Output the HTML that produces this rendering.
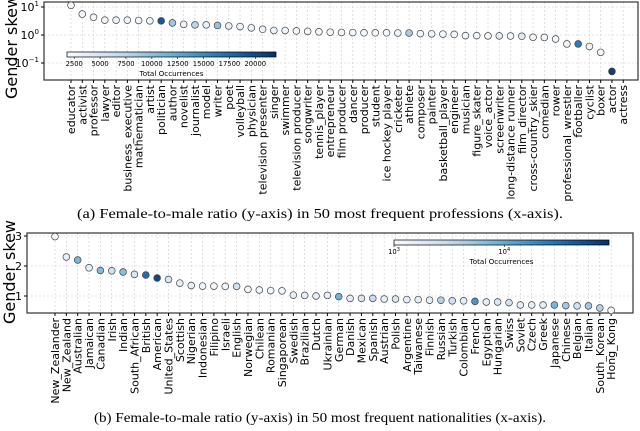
<!DOCTYPE html>
<html><head><meta charset="utf-8"><style>
body{margin:0;background:#fff}
svg{display:block;font-family:"DejaVu Sans","Liberation Sans",sans-serif}
.cap{font-family:"Liberation Serif",serif;font-size:14px}
</style></head><body>
<svg id="s" width="640" height="431" xmlns="http://www.w3.org/2000/svg">
<text class="cap" x="320" y="218" text-anchor="middle" textLength="486" lengthAdjust="spacingAndGlyphs">(a) Female-to-male ratio (y-axis) in 50 most frequent professions (x-axis).</text>
<text class="cap" x="320" y="422" text-anchor="middle" textLength="452" lengthAdjust="spacingAndGlyphs">(b) Female-to-male ratio (y-axis) in 50 most frequent nationalities (x-axis).</text>
</svg>
<script>
const profCats=["educator","activist","professor","lawyer","editor","business_executive","mathematician","artist","politician","author","novelist","journalist","model","writer","poet","volleyball","physician","television presenter","singer","swimmer","television producer","songwriter","tennis_player","entrepreneur","film producer","dancer","producer","student","ice hockey player","cricketer","athlete","composer","painter","basketball_player","engineer","musician","figure_skater","voice_actor","screenwriter","long-distance runner","film_director","cross-country_skier","comedian","rower","professional_wrestler","footballer","cyclist","boxer","actor","actress"];
const profSkew=[11.5,5.6,4.3,3.4,3.4,3.4,3.3,3.2,3.2,2.7,2.4,2.3,2.3,2.2,2.1,2.0,1.8,1.6,1.45,1.45,1.4,1.35,1.3,1.26,1.23,1.22,1.2,1.2,1.2,1.18,1.18,1.12,1.1,1.08,1.05,0.95,0.95,0.93,0.93,0.92,0.9,0.83,0.82,0.72,0.48,0.48,0.39,0.24,0.05,null];
const profCount=[2600,2500,2600,2700,2800,2600,2600,2900,19000,9000,3000,7500,3200,9500,3200,3000,2800,3000,2800,2700,2600,2600,2600,2600,2500,2500,2500,2500,2500,2600,8500,2600,3000,2600,2600,2600,2700,2600,4000,2600,4500,2600,2600,2600,2600,16000,2600,2600,21000,2500];
const profTicks=[2500,5000,7500,10000,12500,15000,17500,20000];
const natCats=["New_Zealander","New_Zealand","Australian","Jamaican","Canadian","Irish","Indian","South_African","British","American","United_States","Scottish","Nigerian","Indonesian","Filipino","Israeli","English","Norwegian","Chilean","Romanian","Singaporean","Swedish","Brazilian","Dutch","Ukrainian","German","Danish","Mexican","Spanish","Austrian","Polish","Argentine","Taiwanese","Finnish","Russian","Turkish","Colombian","French","Egyptian","Hungarian","Swiss","Soviet","Czech","Greek","Japanese","Chinese","Belgian","Italian","South_Korean","Hong_Kong"];
const natSkew=[2.98,2.3,2.2,1.94,1.85,1.84,1.8,1.72,1.7,1.6,1.55,1.43,1.35,1.33,1.33,1.32,1.32,1.22,1.2,1.18,1.17,1.03,1.02,1.0,1.02,0.98,0.92,0.92,0.92,0.9,0.9,0.88,0.88,0.86,0.86,0.84,0.84,0.82,0.8,0.8,0.78,0.7,0.7,0.7,0.7,0.68,0.67,0.67,0.6,0.52];
const natCount=[1100,1500,8000,1500,7000,2500,6500,2000,30000,60000,2000,1500,1500,1200,1200,1200,2500,1200,1200,1200,1200,1500,1500,1500,1500,9000,1500,2000,3000,1500,2000,1500,1500,1500,4000,2500,1500,15000,1500,2000,2500,1500,1500,1500,8000,5000,2500,5000,4000,1200];
const natTicks=[1000,10000];

const NS="http://www.w3.org/2000/svg",svg=document.getElementById('s');
function mk(t,a,p){const e=document.createElementNS(NS,t);for(const k in a)e.setAttribute(k,a[k]);(p||svg).appendChild(e);return e;}
const stops=[[0,[247,251,255]],[0.25,[198,219,239]],[0.5,[107,174,214]],[0.75,[33,113,181]],[1,[8,48,107]]];
function blues(t){t=Math.max(0,Math.min(1,t));for(let i=1;i<stops.length;i++){if(t<=stops[i][0]){const a=stops[i-1],b=stops[i],f=(t-a[0])/(b[0]-a[0]);return 'rgb('+a[1].map((v,j)=>Math.round(v+(b[1][j]-v)*f)).join(',')+')';}}return 'rgb(8,48,107)';}
function frame(x0,y0,x1,y1,name){mk('rect',{x:x0,y:y0,width:x1-x0,height:y1-y0,fill:'none',stroke:'#333','stroke-width':1.2,});}
function grid(x0,y0,x1,y1,xs,ys){xs.forEach(x=>mk('line',{x1:x,x2:x,y1:y0,y2:y1,stroke:'#ccc','stroke-width':0.6,'stroke-dasharray':'2,2'}));ys.forEach(y=>mk('line',{x1:x0,x2:x1,y1:y,y2:y,stroke:'#ccc','stroke-width':0.6,'stroke-dasharray':'2,2'}));}
function colorbar(x0,x1,y,ticks,sc,lab,name){const g=mk('g',{});
 const d=mk('defs',{},g),lg=mk('linearGradient',{id:name+'g'},d);for(let i=0;i<=10;i++)mk('stop',{offset:i/10,'stop-color':blues(i/10)},lg);
 mk('rect',{x:x0,y:y,width:x1-x0,height:5,fill:'url(#'+name+'g)',stroke:'#000','stroke-width':0.7},g);
 ticks.forEach(t=>{const x=sc(t);mk('line',{x1:x,x2:x,y1:y+5,y2:y+7,stroke:'#000','stroke-width':0.6},g);const tx=mk('text',{x:x,y:y+14,'font-size':6.8,'text-anchor':'middle'},g);
  if(name==='colorbar-b'){tx.textContent='10';const s=mk('tspan',{'font-size':5,dy:-3},tx);s.textContent=String(Math.round(Math.log10(t)));}else tx.textContent=t;});
 const l=mk('text',{x:(x0+x1)/2,y:y+24,'font-size':7.2,'text-anchor':'middle'},g);l.textContent=lab;}

// ---- Top chart
(function(){
 const X0=44,X1=638,Y0=2,Y1=80;
 const xs=i=>71+i*11.27; const ys=v=>35-Math.log10(v)*28;
 grid(X0,Y0,X1,Y1,profCats.map((c,i)=>xs(i)),[ys(10),ys(1),ys(0.1)]);
 frame(X0,Y0,X1,Y1,'plot-area-a');
 [[10,'1'],[1,'0'],[0.1,'−1']].forEach(([v,e])=>{const y=ys(v);mk('line',{x1:X0-3,x2:X0,y1:y,y2:y,stroke:'#000'});const t=mk('text',{x:X0-5,y:y+4,'font-size':11,'text-anchor':'end',});t.textContent='10';const s=mk('tspan',{'font-size':7,dy:-5},t);s.textContent=e;});
 const yl=mk('text',{x:0,y:0,'font-size':16,'text-anchor':'middle',transform:'translate(17,47) rotate(-90)',});yl.textContent='Gender skew';
 const cmin=1800,cmax=22000;const csc=v=>67+(v-cmin)/(cmax-cmin)*209;
 colorbar(67,276,52,profTicks,csc,'Total Occurrences','colorbar-a');
 profCats.forEach((c,i)=>{const x=xs(i);mk('line',{x1:x,x2:x,y1:Y1,y2:Y1+3,stroke:'#000'});
  const t=mk('text',{x:0,y:0,'font-size':11,'text-anchor':'end',transform:`translate(${x+4},${Y1+5}) rotate(-90)`});
  
  t.textContent=c;
  if(profSkew[i]!=null){const p=mk('circle',{cx:x,cy:ys(profSkew[i]),r:3.4,fill:blues((profCount[i]-cmin)/(cmax-cmin)),stroke:'#444','stroke-width':0.7});
  
  }});
})();
// ---- Bottom chart
(function(){
 const X0=27,X1=633,Y0=233,Y1=313;
 const xs=i=>55+i*11.35; const ys=v=>296-(v-1)*30;
 grid(X0,Y0,X1,Y1,natCats.map((c,i)=>xs(i)),[ys(1),ys(2),ys(3)]);
 frame(X0,Y0,X1,Y1,'plot-area-b');
 [1,2,3].forEach(v=>{const y=ys(v);mk('line',{x1:X0-3,x2:X0,y1:y,y2:y,stroke:'#000'});const t=mk('text',{x:X0-5,y:y+4,'font-size':11,'text-anchor':'end',});t.textContent=v;});
 const yl=mk('text',{x:0,y:0,'font-size':16,'text-anchor':'middle',transform:'translate(15,272) rotate(-90)',});yl.textContent='Gender skew';
 const lmin=3,lmax=4.95;const csc=v=>394+(Math.log10(v)-lmin)/(lmax-lmin)*215;
 colorbar(394,609,240,natTicks,csc,'Total Occurrences','colorbar-b');
 natCats.forEach((c,i)=>{const x=xs(i);mk('line',{x1:x,x2:x,y1:Y1,y2:Y1+3,stroke:'#000'});
  const t=mk('text',{x:0,y:0,'font-size':11,'text-anchor':'end',transform:`translate(${x+4},${Y1+5}) rotate(-90)`});
  
  t.textContent=c;
  const p=mk('circle',{cx:x,cy:ys(natSkew[i]),r:3.4,fill:blues((Math.log10(natCount[i])-lmin)/(lmax-lmin)),stroke:'#444','stroke-width':0.7});
  
  });
})();
</script>
</body></html>
